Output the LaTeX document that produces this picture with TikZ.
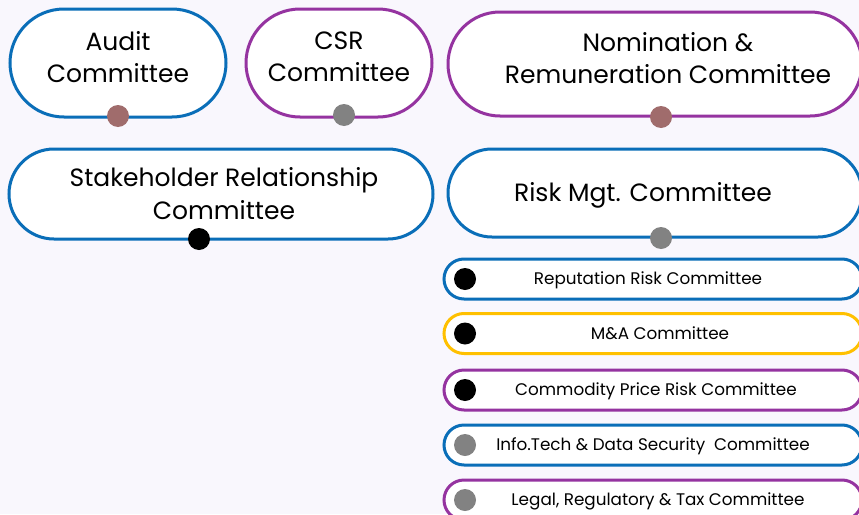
\documentclass[tikz,border=0pt]{standalone}
\usepackage{fontspec}
\setmainfont{Poppins}
\usepackage{tikz}
\usetikzlibrary{shapes.misc,positioning}
\definecolor{ComBlue}{HTML}{0A6EB8}
\definecolor{ComPurple}{HTML}{9533A0}
\definecolor{ComYellow}{HTML}{FFC000}
\definecolor{ComBrown}{HTML}{A06C6C}
\definecolor{ComGray}{HTML}{828282}
\definecolor{ComBack}{HTML}{F9F7FD}

\begin{document}
\begin{tikzpicture}[
  x=1pt,y=-1pt,
  board/.style={rounded rectangle,draw=#1,line width=3pt,fill=white,
    align=center,inner sep=0pt,text depth=12pt,
    font=\fontsize{25}{32}\selectfont},
  sub/.style={rounded rectangle,draw=#1,line width=3pt,fill=white,
    minimum width=418pt,minimum height=40pt,inner sep=0pt,
    text height=11.8pt,text depth=0pt,font=\fontsize{16.8}{19}\selectfont},
  pin/.style={circle,fill=#1,minimum size=22pt,inner sep=0pt}
]
  \useasboundingbox (0,0) rectangle (859,514);
  \fill[ComBack] (0,0) rectangle (859,514);
  \begin{scope}
  \clip (0,0) rectangle (859,514);

  % board committees
  \node[board=ComBlue,minimum width=216pt,minimum height=108pt] (audit) at (118,63)
    {Audit\\Committee};
  \node[board=ComPurple,minimum width=186pt,minimum height=108pt] (csr) at (339,63)
    {CSR\\Committee};
  \node[board=ComPurple,minimum width=414pt,minimum height=104pt] (nrc) at (655,64)
    {\hspace*{26pt}Nomination \&\\\hspace*{26pt}Remuneration Committee};
  \node[board=ComBlue,minimum width=424pt,minimum height=90pt,text depth=2pt,
    font=\fontsize{25}{33}\selectfont] (src) at (221,194)
    {\hspace*{6pt}Stakeholder Relationship\\\hspace*{6pt}Committee};
  \node[board=ComBlue,minimum width=414pt,minimum height=88pt,
    text height=17.5pt,text depth=0pt] (rmc) at (655,193)
    {Risk Mgt. Committee\hspace*{24pt}};

  \node[pin=ComBrown] (auditpin) at (118,116) {};
  \node[pin=ComGray] (csrpin) at (344,115) {};
  \node[pin=ComBrown] (nrcpin) at (661,117) {};
  \node[pin=black] (srcpin) at (199,239) {};
  \node[pin=ComGray] (rmcpin) at (661,238) {};

  % risk sub-committees
  \node[sub=ComBlue] (rep) at (653,279) {Reputation Risk Committee\hspace*{10pt}};
  \node[sub=ComYellow] (ma) at (653,333.5) {\hspace*{14pt}M\&A Committee};
  \node[sub=ComPurple] (cpr) at (653,390) {\hspace*{6pt}Commodity Price Risk Committee};
  \node[sub=ComBlue] (itds) at (653,445) {Info.Tech \& Data Security\ \ Committee};
  \node[sub=ComPurple] (lrt) at (653,500) {\hspace*{10pt}Legal, Regulatory \& Tax Committee};

  \node[pin=black] (reppin) at (465,279) {};
  \node[pin=black] (mapin) at (465,333.5) {};
  \node[pin=black] (cprpin) at (465,390) {};
  \node[pin=ComGray] (itdspin) at (465,445) {};
  \node[pin=ComGray] (lrtpin) at (465,500) {};
  \end{scope}
\end{tikzpicture}
\end{document}
